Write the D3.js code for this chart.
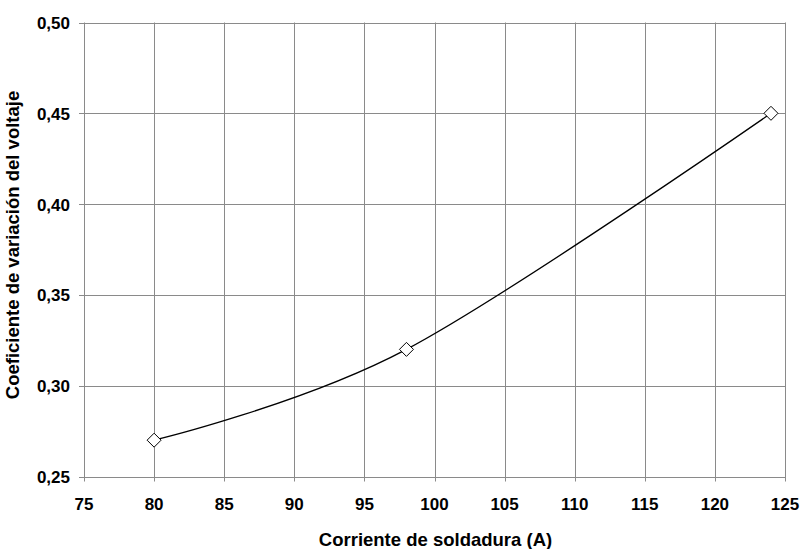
<!DOCTYPE html>
<html>
<head>
<meta charset="utf-8">
<script src="https://cdn.jsdelivr.net/npm/d3@7"></script>
<style>
  html, body { margin: 0; padding: 0; background: #fff; }
  svg { display: block; }
  text { font-family: "Liberation Sans", Arial, sans-serif; font-weight: bold; fill: #000; }
</style>
</head>
<body>
<script>
const corriente = [80, 98, 124];
const coeficiente = [0.27, 0.32, 0.45];
const xTicks = [75, 80, 85, 90, 95, 100, 105, 110, 115, 120, 125];
const yTicks = [0.25, 0.30, 0.35, 0.40, 0.45, 0.50];
const xTitle = "Corriente de soldadura (A)";
const yTitle = "Coeficiente de variación del voltaje";

const W = 801, H = 549;
const svg = d3.select("body").append("svg").attr("width", W).attr("height", H);

const x = d3.scaleLinear().domain([75, 125]).range([84, 785]);
const y = d3.scaleLinear().domain([0.25, 0.50]).range([476.5, 22.5]);
const grid = "#8a8a8a";
const fmt = d => d3.format(".2f")(d).replace(".", ",");

// gridlines
svg.append("g").selectAll("line").data(xTicks).join("line")
  .attr("x1", d => Math.round(x(d)) + 0.5).attr("x2", d => Math.round(x(d)) + 0.5)
  .attr("y1", y(0.50)).attr("y2", y(0.25) + 5)
  .attr("stroke", grid).attr("stroke-width", 1);
svg.append("g").selectAll("line").data(yTicks).join("line")
  .attr("y1", d => Math.round(y(d)) + 0.5).attr("y2", d => Math.round(y(d)) + 0.5)
  .attr("x1", x(75) - 5).attr("x2", x(125))
  .attr("stroke", grid).attr("stroke-width", 1);

// tick labels
svg.append("g").selectAll("text").data(yTicks).join("text")
  .attr("x", 70).attr("y", d => y(d) + 6.5)
  .attr("text-anchor", "end").attr("font-size", 17)
  .text(fmt);
svg.append("g").selectAll("text").data(xTicks).join("text")
  .attr("x", d => x(d)).attr("y", 510)
  .attr("text-anchor", "middle").attr("font-size", 17)
  .text(d => d);

// titles
svg.append("text").attr("x", (x(75) + x(125)) / 2 + 1).attr("y", 545.5)
  .attr("text-anchor", "middle").attr("font-size", 18.5).text(xTitle);
svg.append("text").attr("transform", "translate(19,245) rotate(-90)")
  .attr("text-anchor", "middle").attr("font-size", 18.5).text(yTitle);

// line
const pts = corriente.map((c, i) => [c, coeficiente[i]]);
const line = d3.line().x(d => x(d[0])).y(d => y(d[1])).curve(d3.curveCardinal.tension(0));
svg.append("path").datum(pts).attr("d", line)
  .attr("fill", "none").attr("stroke", "#000").attr("stroke-width", 1.3);

// markers
const r = 7;
svg.append("g").selectAll("path").data(pts).join("path")
  .attr("d", d => {
    const cx = x(d[0]), cy = y(d[1]);
    return `M${cx},${cy - r}L${cx + r},${cy}L${cx},${cy + r}L${cx - r},${cy}Z`;
  })
  .attr("fill", "#fff").attr("stroke", "#000").attr("stroke-width", 1);
</script>
</body>
</html>
